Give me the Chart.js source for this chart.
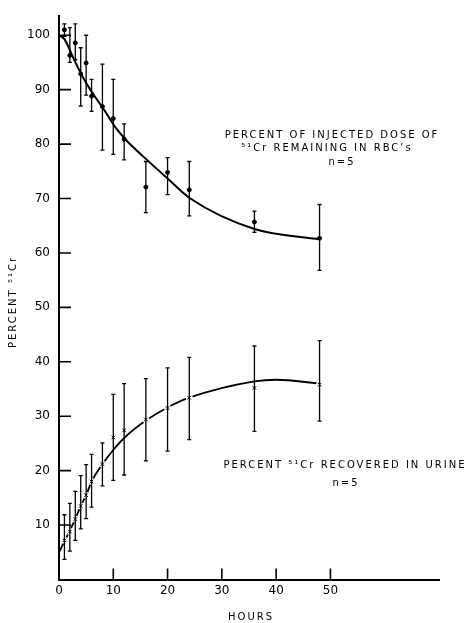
<!DOCTYPE html>
<html>
<head>
<meta charset="utf-8">
<script src="https://cdn.jsdelivr.net/npm/chart.js@4.4.1/dist/chart.umd.min.js"></script>
<style>
    html, body { margin: 0; padding: 0; background: #fff; }
</style>
</head>
<body>
<canvas id="chart" width="467" height="623"></canvas>
<script>
// sampling times (hours)
var hours = [1, 2, 3, 4, 5, 6, 8, 10, 12, 16, 20, 24, 36, 48];

// percent of injected dose of 51Cr remaining in RBC's
var rbcMean = [101.0, 96.3, 98.6, 92.9, 94.9, 88.8, 86.9, 84.7, 80.9, 72.1, 74.8, 71.6, 65.7, 62.7];
var rbcLow  = [99.8, 95.0, 95.5, 87.0, 89.0, 86.0, 78.9, 78.1, 77.1, 67.4, 70.7, 66.8, 63.8, 56.8];
var rbcHigh = [102.1, 101.4, 102.1, 97.7, 100.0, 91.9, 94.7, 91.9, 83.7, 76.8, 77.5, 76.8, 67.7, 68.9];

// percent 51Cr recovered in urine
var urineMean = [7.2, 8.8, 11.1, 13.5, 15.5, 18.0, 21.2, 26.1, 27.4, 29.4, 31.5, 33.4, 35.2, 35.8];
var urineLow  = [3.7, 5.2, 7.2, 9.3, 11.2, 13.3, 17.2, 18.2, 19.2, 21.8, 23.6, 25.7, 27.2, 29.1];
var urineHigh = [11.9, 14.0, 16.2, 19.1, 21.1, 23.0, 25.1, 34.0, 36.0, 36.9, 38.9, 40.8, 42.9, 43.9];

// the hand drawn curves
var rbcFitHours = [0, 1, 2.6, 4.4, 6.3, 8.3, 10.3, 12.3, 16.2, 20.2, 24.2, 36, 48];
var rbcFit      = [100, 99.3, 95.9, 92.3, 89.2, 86.3, 83.2, 80.8, 77.1, 73.5, 70.0, 64.4, 62.5];
var urineFitHours = [0, 1, 2, 3, 4, 5, 6, 8, 10, 12, 16, 20, 24, 36, 40, 48];
var urineFit      = [5.0, 7.0, 9.0, 11.1, 13.5, 15.5, 18.0, 21.2, 23.8, 26.0, 29.2, 31.6, 33.4, 36.4, 36.7, 36.0];

// axis ticks
var xTicks = [0, 10, 20, 30, 40, 50];
var yTicks = [10, 20, 30, 40, 50, 60, 70, 80, 90, 100];

function pts(xs, ys) {
    return xs.map(function (x, i) { return { x: x, y: ys[i] }; });
}

function spaced(ctx, text, x, y, size, spacing) {
    ctx.font = size + 'px "DejaVu Sans"';
    ctx.letterSpacing = spacing + 'px';
    ctx.textAlign = 'center';
    ctx.textBaseline = 'middle';
    ctx.fillText(text, x + spacing / 2, y);
}

// error bars, inward tick marks and the text of the figure
var figurePlugin = {
    id: 'figure',
    afterDatasetsDraw: function (chart) {
        var ctx = chart.ctx, xs = chart.scales.x, ys = chart.scales.y;
        ctx.save();
        ctx.strokeStyle = '#000';
        ctx.lineWidth = 1.3;
        [[rbcLow, rbcHigh], [urineLow, urineHigh]].forEach(function (pair) {
            hours.forEach(function (h, i) {
                var px = xs.getPixelForValue(h);
                var y1 = ys.getPixelForValue(pair[0][i]);
                var y2 = ys.getPixelForValue(pair[1][i]);
                ctx.beginPath();
                ctx.moveTo(px, y1); ctx.lineTo(px, y2);
                ctx.moveTo(px - 2, y1); ctx.lineTo(px + 2, y1);
                ctx.moveTo(px - 2, y2); ctx.lineTo(px + 2, y2);
                ctx.stroke();
            });
        });
        ctx.restore();
    },
    afterDraw: function (chart) {
        var ctx = chart.ctx, xs = chart.scales.x, ys = chart.scales.y;
        var area = chart.chartArea;
        ctx.save();
        ctx.strokeStyle = '#000';
        ctx.lineWidth = 1.6;
        ctx.beginPath();
        yTicks.forEach(function (v) {
            var py = ys.getPixelForValue(v);
            ctx.moveTo(area.left, py); ctx.lineTo(area.left + 12, py);
        });
        xTicks.slice(1).forEach(function (v) {
            var px = xs.getPixelForValue(v);
            ctx.moveTo(px, area.bottom); ctx.lineTo(px, area.bottom - 11);
        });
        ctx.stroke();

        ctx.fillStyle = '#000';
        spaced(ctx, 'PERCENT OF INJECTED DOSE OF', 331, 135, 10, 2);
        spaced(ctx, '\u2075\u00b9Cr REMAINING IN RBC\u2019s', 326, 148.5, 10, 2);
        spaced(ctx, 'n=5', 341, 162, 10, 2);
        spaced(ctx, 'PERCENT \u2075\u00b9Cr RECOVERED IN URINE', 344, 465, 10, 2);
        spaced(ctx, 'n=5', 345, 483, 10, 2);
        spaced(ctx, 'HOURS', 250, 617, 10, 2);

        ctx.translate(13, 303);
        ctx.rotate(-Math.PI / 2);
        spaced(ctx, 'PERCENT \u2075\u00b9Cr', 0, 0, 10, 2);
        ctx.restore();
    }
};

var config = {
    type: 'line',
    data: {
        datasets: [
            {
                label: 'RBC mean',
                type: 'scatter',
                data: pts(hours, rbcMean),
                pointStyle: 'circle',
                pointRadius: 2,
                backgroundColor: '#000',
                borderColor: '#000',
                order: 1
            },
            {
                label: 'Urine mean',
                type: 'scatter',
                data: pts(hours, urineMean),
                pointStyle: 'crossRot',
                pointRadius: 2.5,
                borderColor: '#000',
                borderWidth: 1,
                order: 1
            },
            {
                label: 'Urine gap',
                type: 'scatter',
                data: pts(hours, urineMean),
                pointStyle: 'circle',
                pointRadius: 3.5,
                backgroundColor: '#fff',
                borderWidth: 0,
                order: 2
            },
            {
                label: 'RBC curve',
                data: pts(rbcFitHours, rbcFit),
                borderColor: '#000',
                borderWidth: 2,
                pointRadius: 0,
                cubicInterpolationMode: 'monotone',
                order: 3
            },
            {
                label: 'Urine curve',
                data: pts(urineFitHours, urineFit),
                borderColor: '#000',
                borderWidth: 1.8,
                pointRadius: 0,
                cubicInterpolationMode: 'monotone',
                order: 3
            }
        ]
    },
    options: {
        responsive: false,
        animation: false,
        layout: { padding: { left: 0, top: 8, right: 28, bottom: 0 } },
        plugins: {
            legend: { display: false },
            tooltip: { enabled: false }
        },
        scales: {
            x: {
                type: 'linear',
                min: 0,
                max: 70,
                afterFit: function (s) { s.height = 43.5; },
                afterBuildTicks: function (s) { s.ticks = xTicks.map(function (v) { return { value: v }; }); },
                grid: { display: false, drawTicks: false },
                border: { display: true, color: '#000', width: 2 },
                ticks: {
                    padding: 4,
                    color: '#000',
                    font: { family: 'DejaVu Sans', size: 12 }
                }
            },
            y: {
                type: 'linear',
                min: 0,
                max: 103.5,
                afterFit: function (s) { s.width = 59; },
                afterBuildTicks: function (s) { s.ticks = yTicks.map(function (v) { return { value: v }; }); },
                grid: { display: false, drawTicks: false },
                border: { display: true, color: '#000', width: 2 },
                ticks: {
                    padding: 9,
                    color: '#000',
                    font: { family: 'DejaVu Sans', size: 12 }
                }
            }
        }
    },
    plugins: [figurePlugin]
};

new Chart(document.getElementById('chart'), config);
</script>
</body>
</html>
